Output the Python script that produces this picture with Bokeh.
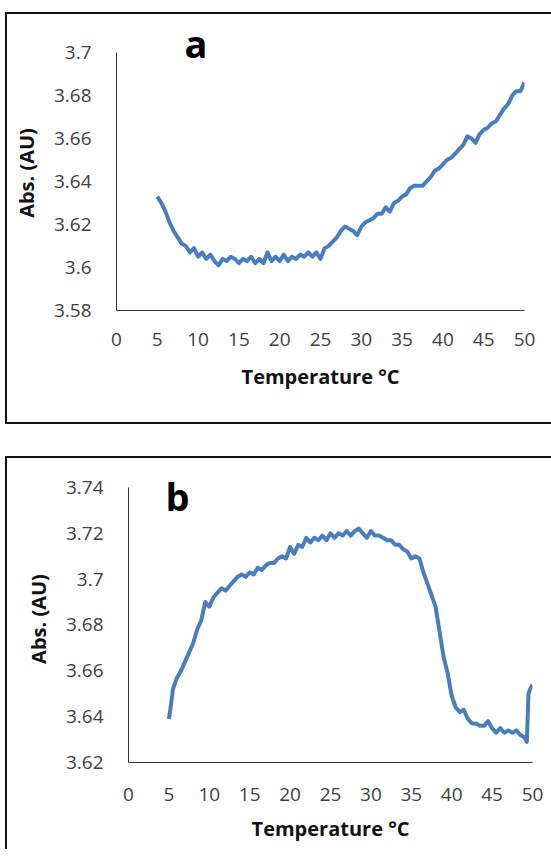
from bokeh.plotting import figure
from bokeh.models import Range1d, FixedTicker, Label
from bokeh.embed import file_html
from bokeh.resources import INLINE

# ---------------- data ----------------
temp_a = [5.0, 5.5, 6.0, 6.5, 7.0, 7.5, 8.0, 8.5, 9.0, 9.5,
          10.0, 10.5, 11.0, 11.5, 12.0, 12.5, 13.0, 13.5, 14.0, 14.5,
          15.0, 15.5, 16.0, 16.5, 17.0, 17.5, 18.0, 18.5, 19.0, 19.5,
          20.0, 20.5, 21.0, 21.5, 22.0, 22.5, 23.0, 23.5, 24.0, 24.5,
          25.0, 25.5, 26.0, 26.5, 27.0, 27.5, 28.0, 28.5, 29.0, 29.5,
          30.0, 30.5, 31.0, 31.5, 32.0, 32.5, 33.0, 33.5, 34.0, 34.5,
          35.0, 35.5, 36.0, 36.5, 37.0, 37.5, 38.0, 38.5, 39.0, 39.5,
          40.0, 40.5, 41.0, 41.5, 42.0, 42.5, 43.0, 43.5, 44.0, 44.5,
          45.0, 45.5, 46.0, 46.5, 47.0, 47.5, 48.0, 48.5, 49.0, 49.5, 50.0]
abs_a = [3.633, 3.630, 3.626, 3.621, 3.617, 3.614, 3.611, 3.610, 3.607, 3.609,
         3.605, 3.607, 3.604, 3.606, 3.603, 3.601, 3.604, 3.603, 3.605, 3.604,
         3.602, 3.604, 3.603, 3.605, 3.602, 3.604, 3.602, 3.607, 3.603, 3.605,
         3.603, 3.606, 3.603, 3.605, 3.604, 3.606, 3.605, 3.607, 3.605, 3.607,
         3.604, 3.609, 3.610, 3.612, 3.614, 3.617, 3.619, 3.618, 3.617, 3.615,
         3.619, 3.621, 3.622, 3.623, 3.625, 3.625, 3.628, 3.626, 3.630, 3.631,
         3.633, 3.634, 3.637, 3.638, 3.638, 3.638, 3.640, 3.642, 3.645, 3.646,
         3.648, 3.650, 3.651, 3.653, 3.655, 3.657, 3.661, 3.660, 3.658, 3.662,
         3.664, 3.665, 3.667, 3.668, 3.671, 3.674, 3.676, 3.680, 3.682, 3.682, 3.686]

temp_b = [5.0, 5.25, 5.5, 6.0, 6.5, 7.0, 7.5, 8.0, 8.5, 9.0, 9.5,
          10.0, 10.5, 11.0, 11.5, 12.0, 12.5, 13.0, 13.5, 14.0, 14.5,
          15.0, 15.5, 16.0, 16.5, 17.0, 17.5, 18.0, 18.5, 19.0, 19.5,
          20.0, 20.5, 21.0, 21.5, 22.0, 22.5, 23.0, 23.5, 24.0, 24.5,
          25.0, 25.5, 26.0, 26.5, 27.0, 27.5, 28.0, 28.5, 29.0, 29.5,
          30.0, 30.5, 31.0, 31.5, 32.0, 32.5, 33.0, 33.5, 34.0, 34.5,
          35.0, 35.5, 36.0, 36.5, 37.0, 37.5, 38.0, 38.5, 39.0, 39.5,
          40.0, 40.5, 41.0, 41.5, 42.0, 42.5, 43.0, 43.5, 44.0, 44.5,
          45.0, 45.5, 46.0, 46.5, 47.0, 47.5, 48.0, 48.5, 49.0, 49.3,
          49.5, 49.7, 50.0]
abs_b = [3.639, 3.645, 3.652, 3.657, 3.660, 3.664, 3.668, 3.672, 3.678, 3.682, 3.690,
         3.688, 3.692, 3.694, 3.696, 3.695, 3.697, 3.699, 3.701, 3.702, 3.701,
         3.703, 3.702, 3.705, 3.704, 3.706, 3.707, 3.707, 3.709, 3.710, 3.709,
         3.714, 3.711, 3.715, 3.714, 3.718, 3.716, 3.718, 3.717, 3.719, 3.717,
         3.720, 3.718, 3.720, 3.719, 3.721, 3.719, 3.721, 3.722, 3.720, 3.718,
         3.721, 3.719, 3.719, 3.718, 3.717, 3.717, 3.715, 3.715, 3.713, 3.712,
         3.709, 3.710, 3.709, 3.703, 3.698, 3.693, 3.688, 3.677, 3.666, 3.659,
         3.649, 3.644, 3.642, 3.643, 3.639, 3.637, 3.637, 3.636, 3.636, 3.638,
         3.635, 3.633, 3.635, 3.633, 3.634, 3.633, 3.634, 3.632, 3.631, 3.629,
         3.650, 3.652, 3.654]

x_ticks = [0, 5, 10, 15, 20, 25, 30, 35, 40, 45, 50]
x_tick_labels = ["0", "5", "10", "15", "20", "25", "30", "35", "40", "45", "50"]
y_ticks_a = [3.58, 3.6, 3.62, 3.64, 3.66, 3.68, 3.7]
y_tick_labels_a = ["3.58", "3.6", "3.62", "3.64", "3.66", "3.68", "3.7"]
y_ticks_b = [3.62, 3.64, 3.66, 3.68, 3.7, 3.72, 3.74]
y_tick_labels_b = ["3.62", "3.64", "3.66", "3.68", "3.7", "3.72", "3.74"]

x_title = "Temperature \u00b0C"
y_title = "Abs. (AU)"

LINE_COLOR = "#4a7ebb"
FONT = "Open Sans"
FIG_W = 551
BOX_X = 5          # left border of the boxed panel inside the figure


def box_background(box_top, bottom_line):
    ln = "linear-gradient(#111111, #111111)"
    parts = [f"{ln} {BOX_X}px {box_top}px / 2px calc(100% - {box_top}px) no-repeat",
             f"{ln} {BOX_X}px {box_top}px / 100% 2px no-repeat"]
    if bottom_line:
        parts.append(f"{ln} {BOX_X}px 100% / 100% 2px no-repeat")
    parts.append("#ffffff")
    return ", ".join(parts)


def make_panel(xs, ys, yr, ybounds, yticks, ylabels, letter, letter_pos,
               height, mb, ml, mt, mr, box_top, bottom_line,
               tick_standoff, title_standoff):
    p = figure(width=FIG_W, height=height, output_backend="svg",
               toolbar_location=None, x_range=Range1d(0, 50),
               y_range=Range1d(*yr), min_border_left=ml, min_border_right=mr,
               min_border_top=mt, min_border_bottom=mb)
    p.border_fill_color = None
    p.background_fill_color = None
    p.styles = {"background": box_background(box_top, bottom_line)}
    p.outline_line_color = None
    p.xgrid.visible = False
    p.ygrid.visible = False
    p.line(xs, ys, line_color=LINE_COLOR, line_width=4, line_join="round")

    p.xaxis.ticker = FixedTicker(ticks=x_ticks)
    p.xaxis.major_label_overrides = {t: l for t, l in zip(x_ticks, x_tick_labels)}
    p.yaxis.ticker = FixedTicker(ticks=yticks)
    p.yaxis.major_label_overrides = {t: l for t, l in zip(yticks, ylabels)}
    p.yaxis.bounds = ybounds
    for ax in (p.xaxis, p.yaxis):
        ax.axis_line_color = "#333333"
        ax.axis_line_width = 1
        ax.major_tick_line_color = None
        ax.minor_tick_line_color = None
        ax.major_tick_out = 0
        ax.major_tick_in = 0
        ax.minor_tick_out = 0
        ax.minor_tick_in = 0
        ax.major_label_text_font = FONT
        ax.major_label_text_font_size = "19px"
        ax.major_label_text_color = "#404040"
        ax.axis_label_text_font = FONT
        ax.axis_label_text_font_size = "20px"
        ax.axis_label_text_font_style = "bold"
        ax.axis_label_text_color = "#111111"
    p.xaxis.axis_label = x_title
    p.yaxis.axis_label = y_title
    p.xaxis.major_label_standoff = tick_standoff
    p.xaxis.axis_label_standoff = title_standoff
    p.yaxis.major_label_standoff = 25
    p.yaxis.axis_label_standoff = 11

    p.add_layout(Label(x=letter_pos[0], y=letter_pos[1], text=letter,
                       text_font=FONT, text_font_size="38px",
                       text_font_style="bold", text_color="#000000",
                       text_baseline="alphabetic"))
    return p


pa = make_panel(temp_a, abs_a, (3.58, 3.7079), (3.58, 3.70), y_ticks_a, y_tick_labels_a,
                "a", (8.33, 3.7044), height=424, mb=114, ml=116, mt=35, mr=27,
                box_top=12, bottom_line=True, tick_standoff=22, title_standoff=14)
pb = make_panel(temp_b, abs_b, (3.62, 3.7452), (3.62, 3.74), y_ticks_b, y_tick_labels_b,
                "b", (4.58, 3.7363), height=425, mb=87, ml=128, mt=51, mr=19,
                box_top=32, bottom_line=False, tick_standoff=25, title_standoff=11)

open("out.html", "w").write(file_html([pa, pb], INLINE))
